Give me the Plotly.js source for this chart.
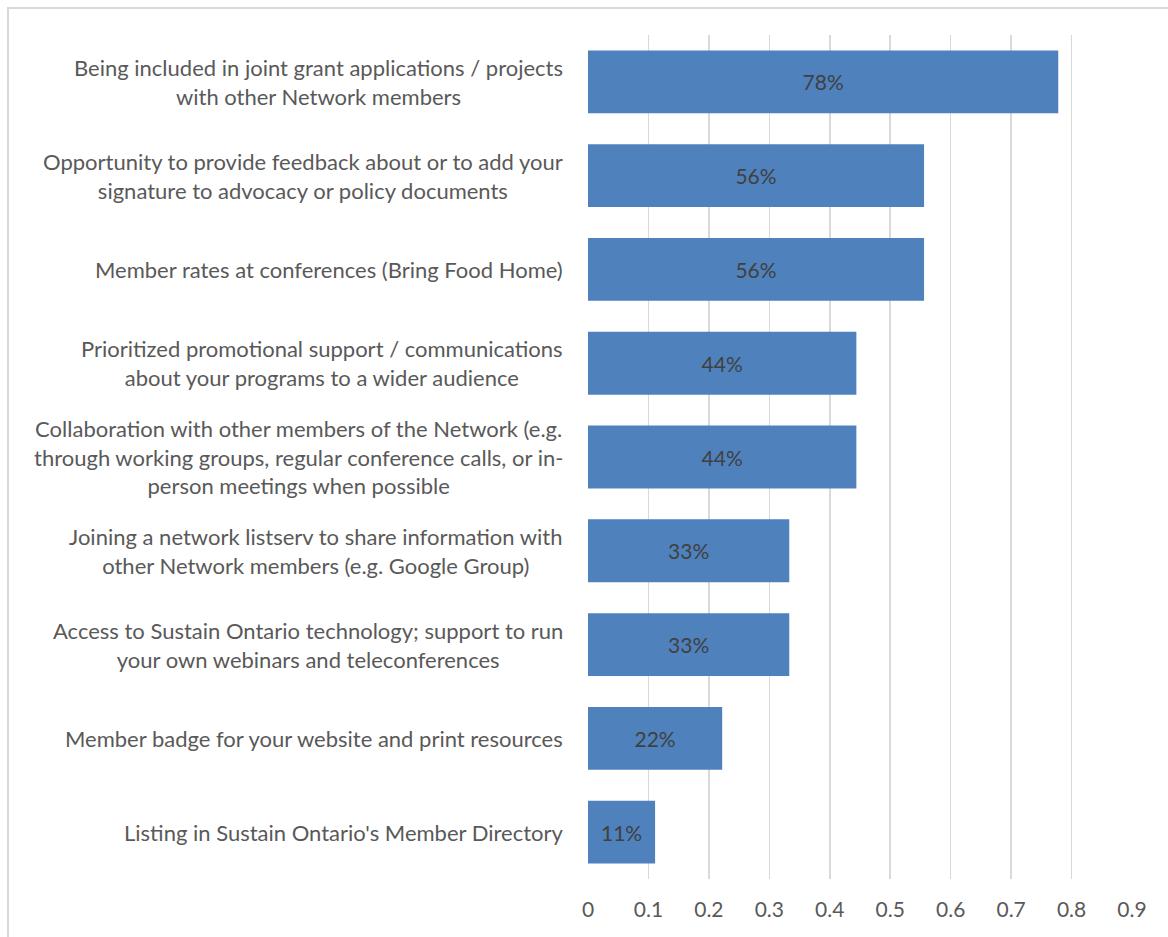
<!DOCTYPE html>
<html>
<head>
<meta charset="utf-8">
<script src="https://cdn.plot.ly/plotly-3.0.1.min.js"></script>
<style>
  html, body { margin: 0; padding: 0; background: #fff; overflow: hidden; }
  #frame { position: absolute; left: 7px; top: 7px; width: 1170px; height: 940px; border: 2px solid #d9d9d9; box-sizing: border-box; }
  #chart { position: absolute; left: 0; top: 0; width: 1168px; height: 937px; }
</style>
</head>
<body>
<div id="frame"></div>
<div id="chart"></div>
<script>
const categories = [
  "Being included in joint grant applications / projects<br>with other Network members",
  "Opportunity to provide feedback about or to add your<br>signature to advocacy or policy documents",
  "Member rates at conferences (Bring Food Home)",
  "Prioritized promotional support / communications<br>about your programs to a wider audience",
  "Collaboration with other members of the Network (e.g.<br>through working groups, regular conference calls, or in-<br>person meetings when possible",
  "Joining a network listserv to share information with<br>other Network members (e.g. Google Group)",
  "Access to Sustain Ontario technology; support to run<br>your own webinars and teleconferences",
  "Member badge for your website and print resources",
  "Listing in Sustain Ontario's Member Directory"
];
const values = [0.778, 0.556, 0.556, 0.444, 0.444, 0.333, 0.333, 0.222, 0.111];
const xTicks = [0, 0.1, 0.2, 0.3, 0.4, 0.5, 0.6, 0.7, 0.8, 0.9];

const FONT = "Lato, 'Open Sans', sans-serif";

const trace = {
  type: "bar",
  orientation: "h",
  x: values,
  y: categories,
  marker: { color: "#4f81bd" },
  texttemplate: "%{x:.0%}",
  textposition: "inside",
  insidetextanchor: "middle",
  textfont: { family: FONT, size: 21, color: "#404040" },
  constraintext: "none",
  hoverinfo: "skip"
};

const annotations = categories.map(c => ({
  xref: "paper", yref: "y",
  x: 0, y: c,
  xanchor: "right", yanchor: "middle",
  xshift: -23,
  text: c,
  align: "center",
  showarrow: false,
  font: { family: FONT, size: 22, color: "#595959" }
}));

const layout = {
  width: 1168, height: 937,
  margin: { l: 588, r: 36, t: 35, b: 58, pad: 0 },
  paper_bgcolor: "rgba(0,0,0,0)",
  plot_bgcolor: "rgba(0,0,0,0)",
  showlegend: false,
  bargap: 0.33,
  xaxis: {
    range: [0, 0.9],
    tickvals: xTicks,
    ticktext: xTicks.map(v => String(v)),
    showgrid: true, gridcolor: "#d9d9d9", gridwidth: 1.5,
    zeroline: false, showline: false,
    ticks: "", ticklabelstandoff: 16,
    tickfont: { family: FONT, size: 21, color: "#595959" }
  },
  yaxis: {
    type: "category",
    categoryorder: "array", categoryarray: categories,
    autorange: "reversed",
    showticklabels: false, showgrid: false, zeroline: false, showline: false, ticks: ""
  },
  annotations: annotations
};

Plotly.newPlot("chart", [trace], layout, { displayModeBar: false, staticPlot: true });
</script>
</body>
</html>
